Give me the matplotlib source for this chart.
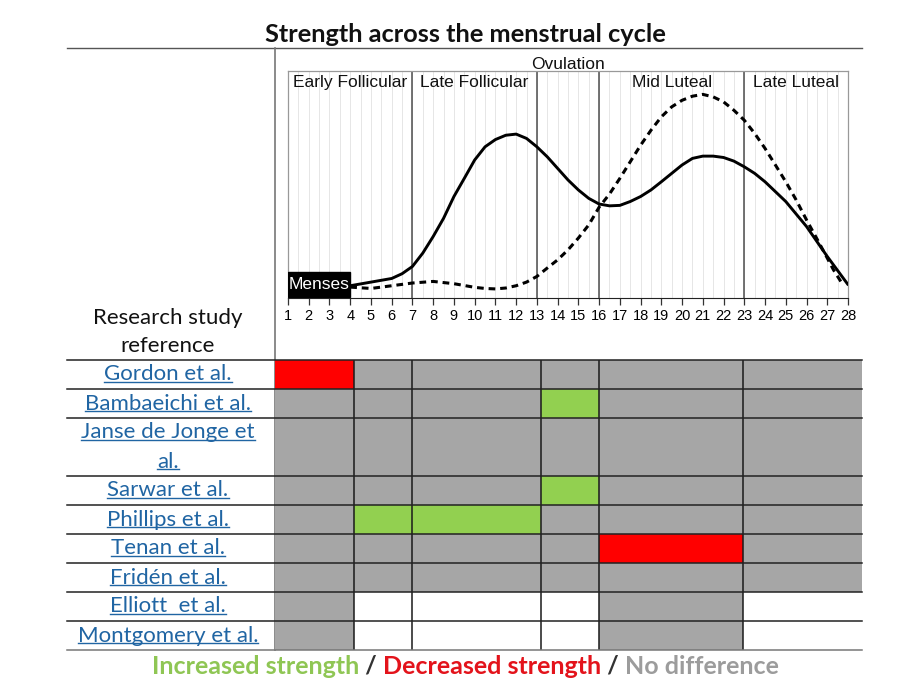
import numpy as np
import matplotlib; matplotlib.use("Agg")
import matplotlib.pyplot as plt
from matplotlib.patches import Rectangle
from matplotlib.lines import Line2D
from matplotlib.transforms import IdentityTransform, blended_transform_factory

# ---- data ----
days = list(range(1, 29))
phases = ["Early Follicular", "Late Follicular", "Mid Luteal", "Late Luteal"]
phase_edges = [1, 7, 13, 16, 23, 28]          # vertical phase lines at 7, 13, 16, 23
phase_label_spans = [(1, 7), (7, 13), (16, 23), (23, 28)]
ovulation_span = (13, 16)
menses_span = (1, 4)

solid_day = [4, 5, 6, 6.5, 7, 7.5, 8, 8.5, 9, 9.5, 10, 10.5, 11, 11.5, 12, 12.5, 13, 13.5,
             14, 14.5, 15, 15.5, 16, 16.5, 17, 17.5, 18, 18.5, 19, 19.5, 20, 20.5, 21, 21.5,
             22, 22.5, 23, 23.5, 24, 25, 26, 27, 28]
solid_val = [0.054, 0.070, 0.086, 0.107, 0.139, 0.198, 0.271, 0.351, 0.447, 0.527, 0.608,
             0.666, 0.698, 0.717, 0.722, 0.703, 0.666, 0.622, 0.571, 0.520, 0.476, 0.439,
             0.414, 0.406, 0.408, 0.425, 0.447, 0.476, 0.512, 0.549, 0.586, 0.615, 0.625,
             0.625, 0.619, 0.603, 0.578, 0.549, 0.512, 0.425, 0.315, 0.183, 0.059]

dash_day = [4, 5, 6, 7, 8, 9, 10, 10.5, 11, 11.5, 12, 12.5, 13, 13.5, 14, 14.5, 15, 15.5,
            16, 16.5, 17, 17.5, 18, 18.5, 19, 19.5, 20, 20.5, 21, 21.5, 22, 22.5, 23, 23.5,
            24, 24.5, 25, 25.5, 26, 26.5, 27, 27.3, 27.7]
dash_val = [0.048, 0.042, 0.054, 0.066, 0.073, 0.063, 0.047, 0.042, 0.040, 0.044, 0.054,
            0.070, 0.095, 0.132, 0.168, 0.212, 0.264, 0.322, 0.400, 0.458, 0.527, 0.600,
            0.673, 0.739, 0.798, 0.842, 0.871, 0.889, 0.897, 0.886, 0.864, 0.827, 0.783,
            0.725, 0.659, 0.586, 0.512, 0.432, 0.344, 0.261, 0.176, 0.124, 0.066]

studies = ["Gordon et al.", "Bambaeichi et al.", "Janse de Jonge et\nal.", "Sarwar et al.",
           "Phillips et al.", "Tenan et al.", "Fridén et al.", "Elliott  et al.",
           "Montgomery et al."]
row_heights = [1, 1, 2, 1, 1, 1, 1, 1, 1]
# table columns in cycle days
col_edges = [0.37, 4.18, 6.98, 13.2, 16.0, 22.94, 28.68]
# I = increased, D = decreased, N = no difference, - = not tested
results = [
    "DNNNNN",
    "NNNINN",
    "NNNNNN",
    "NNNINN",
    "NIINNN",
    "NNNNDN",
    "NNNNNN",
    "N---N-",
    "N---N-",
]
cell_colors = {"I": "#92d050", "D": "#ff0000", "N": "#a6a6a6", "-": "white"}
legend_parts = [("Increased strength", "#8fc654"), (" / ", "#333333"),
                ("Decreased strength", "#e3131b"), (" / ", "#333333"),
                ("No difference", "#9c9c9c")]

W, H = 897, 690
fig = plt.figure(figsize=(W / 100, H / 100), dpi=100)

def fx(px): return px / W
def fy(py): return 1 - py / H

# canvas in pixel coords for frame lines / title / legend
cv = fig.add_axes([0, 0, 1, 1]); cv.set_xlim(0, W); cv.set_ylim(H, 0); cv.axis("off")
cv.text(465, 34, "Strength across the menstrual cycle", ha="center", va="center",
        fontsize=18.3, fontweight="bold", family="Lato", color="#111111")
cv.plot([67, 862], [48, 48], color="#555555", lw=1)
cv.plot([275, 275], [48, 650], color="#777777", lw=1.2)
cv.text(168, 332, "Research study\nreference", ha="center", va="center", fontsize=16,
        family="Lato", color="#111111", linespacing=1.45)

# ---- curve panel ----
ax = fig.add_axes([fx(288), fy(298), fx(848) - fx(288), (298 - 71) / H])
ax.set_xlim(1, 28); ax.set_ylim(0, 1)
for x in np.arange(1.5, 28, 0.5):
    ax.axvline(x, color="#e6e6e6", lw=0.7, zorder=0)
for x in phase_edges[1:-1]:
    ax.axvline(x, color="#4d4d4d", lw=1.1, zorder=1)
for s in ["top", "left", "right"]:
    ax.spines[s].set_color("#999999"); ax.spines[s].set_linewidth(0.9)
ax.spines["bottom"].set_color("#222222")
ax.set_yticks([])
ax.set_xticks(days)
ax.tick_params(axis="x", length=5, width=0.9, color="#333333", pad=3, labelsize=10.5)
for lab in ax.get_xticklabels():
    lab.set_family("Liberation Sans")
for name, (a, b) in zip(phases, phase_label_spans):
    ax.text((a + b) / 2, 0.95, name, ha="center", va="center", fontsize=12.5,
            family="Liberation Sans", color="#111111")
ax.text(sum(ovulation_span) / 2, 0.995, "Ovulation", ha="center", va="bottom", fontsize=12.5,
        family="Liberation Sans", color="#111111", clip_on=False)
ax.add_patch(Rectangle((menses_span[0], 0.003), menses_span[1] - menses_span[0], 0.112,
                       color="black", zorder=3))
ax.text(sum(menses_span) / 2, 0.058, "Menses", ha="center", va="center", color="white",
        fontsize=12.5, family="Liberation Sans", zorder=4)
ax.plot(solid_day, solid_val, color="black", lw=2.1, zorder=5, solid_capstyle="round")
ax.plot(dash_day, dash_val, color="black", lw=2.2, ls=(0, (2.2, 1.6)), zorder=5)

# ---- results table ----
tb = fig.add_axes([fx(288), fy(650), fx(848) - fx(288), 290 / H])
tb.set_xlim(1, 28); tb.set_ylim(sum(row_heights), 0); tb.axis("off")
tr = blended_transform_factory(fig.transFigure, tb.transData)
tops = np.concatenate([[0], np.cumsum(row_heights)])
label_texts = []
for i, (name, res) in enumerate(zip(studies, results)):
    y0, y1 = tops[i], tops[i + 1]
    for j, code in enumerate(res):
        tb.add_patch(Rectangle((col_edges[j], y0), col_edges[j + 1] - col_edges[j], y1 - y0,
                               facecolor=cell_colors[code], edgecolor="none", clip_on=False))
    lines = name.split("\n")
    for k, ln in enumerate(lines):
        yc = y0 + (y1 - y0) * (k + 0.5) / len(lines)
        t = tb.text(fx(168), yc, ln, transform=tr, ha="center", va="center", fontsize=16,
                    family="Lato", color="#2065a3")
        label_texts.append(t)
for j, x in enumerate(col_edges[1:-1]):
    tb.vlines(x, 0, sum(row_heights), color="#1a1a1a", lw=1.1, clip_on=False)
for i, y in enumerate(tops):
    c = "#777777" if i == len(tops) - 1 else "#222222"
    tb.plot([fx(67), fx(862)], [y, y], transform=tr, color=c, lw=1.1, clip_on=False)

# ---- legend text ----
parts = []
prev = None
for txt, col in legend_parts:
    if prev is None:
        t = cv.text(0, 666, txt, ha="left", va="center", fontsize=18, fontweight="bold",
                    family="Lato", color=col)
    else:
        t = cv.annotate(txt, xy=(1, 0), xycoords=prev, ha="left", va="bottom", fontsize=18,
                        fontweight="bold", family="Lato", color=col)
    parts.append(t); prev = t

fig.canvas.draw()
r = fig.canvas.get_renderer()
total = parts[-1].get_window_extent(r).x1 - parts[0].get_window_extent(r).x0
parts[0].set_x(465 - total / 2)

# underline study names
for t in label_texts:
    bb = t.get_window_extent(r)
    yline = bb.y0 + 2.5
    fig.add_artist(Line2D([bb.x0, bb.x1], [yline, yline], transform=IdentityTransform(),
                          color="#2065a3", lw=1))

fig.savefig("out.png", dpi=100)
